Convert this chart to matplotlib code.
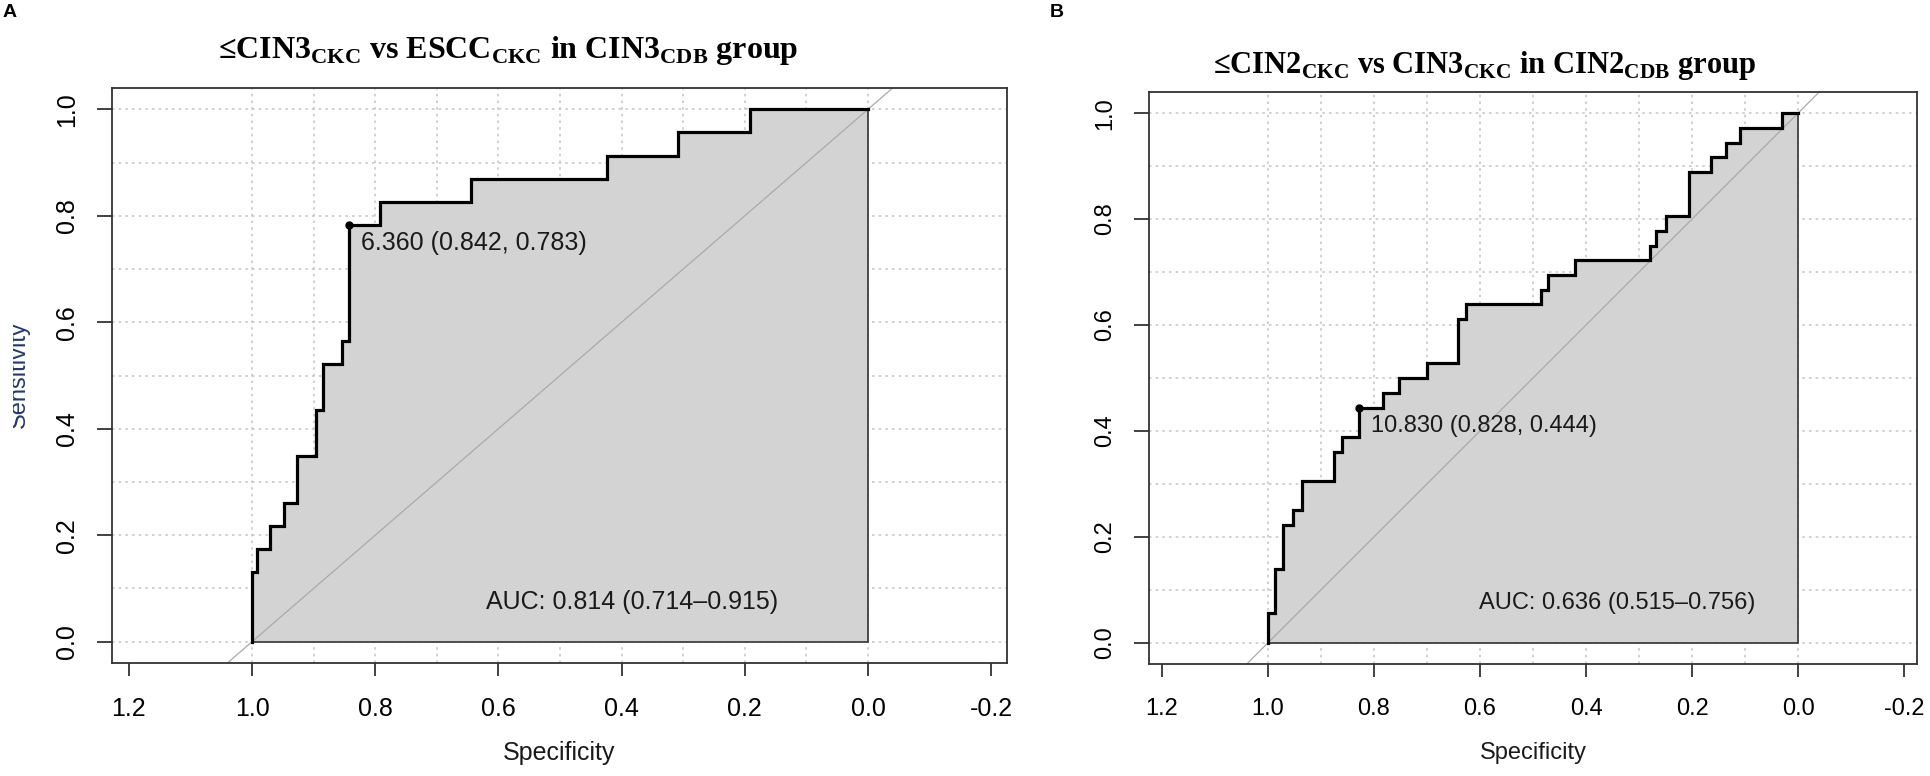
"""
ROC curves of CDB vs CKC grading, two panels
"""

import matplotlib
matplotlib.use("Agg")
import matplotlib.pyplot as plt
from matplotlib.transforms import Bbox

plt.rcParams["font.family"] = ["Liberation Sans", "DejaVu Sans"]
plt.rcParams["mathtext.fontset"] = "custom"
plt.rcParams["mathtext.rm"] = "Liberation Serif:bold"
plt.rcParams["mathtext.bf"] = "Liberation Serif:bold"

# panel A: <=CIN3 vs ESCC
spec_a = [1.000, 1.000, 0.992, 0.992, 0.971, 0.971, 0.948, 0.948, 0.927, 0.927,
          0.896, 0.896, 0.885, 0.885, 0.854, 0.854, 0.842, 0.842, 0.792, 0.792,
          0.644, 0.644, 0.424, 0.424, 0.308, 0.308, 0.192, 0.192, 0.000]
sens_a = [0.000, 0.130, 0.130, 0.174, 0.174, 0.217, 0.217, 0.261, 0.261, 0.348,
          0.348, 0.435, 0.435, 0.522, 0.522, 0.565, 0.565, 0.783, 0.783, 0.826,
          0.826, 0.870, 0.870, 0.913, 0.913, 0.957, 0.957, 1.000, 1.000]
best_a = ("6.360", 0.842, 0.783)
auc_a = "AUC: 0.814 (0.714\u20130.915)"
title_a = "\u2264CIN3$_{\\mathbf{CKC}}$ vs ESCC$_{\\mathbf{CKC}}$ in CIN3$_{\\mathbf{CDB}}$ group"

# panel B: <=CIN2 vs CIN3
spec_b = [1.000, 1.000, 0.987, 0.987, 0.971, 0.971, 0.953, 0.953, 0.936, 0.936,
          0.875, 0.875, 0.860, 0.860, 0.828, 0.828, 0.783, 0.783, 0.752, 0.752,
          0.700, 0.700, 0.641, 0.641, 0.627, 0.627, 0.485, 0.485, 0.472, 0.472,
          0.421, 0.421, 0.280, 0.280, 0.268, 0.268, 0.250, 0.250, 0.205, 0.205,
          0.165, 0.165, 0.135, 0.135, 0.110, 0.110, 0.030, 0.030, 0.000]
sens_b = [0.000, 0.056, 0.056, 0.139, 0.139, 0.222, 0.222, 0.250, 0.250, 0.306,
          0.306, 0.361, 0.361, 0.389, 0.389, 0.444, 0.444, 0.472, 0.472, 0.500,
          0.500, 0.528, 0.528, 0.611, 0.611, 0.639, 0.639, 0.667, 0.667, 0.694,
          0.694, 0.722, 0.722, 0.750, 0.750, 0.778, 0.778, 0.806, 0.806, 0.889,
          0.889, 0.917, 0.917, 0.944, 0.944, 0.972, 0.972, 1.000, 1.000]
best_b = ("10.830", 0.828, 0.444)
auc_b = "AUC: 0.636 (0.515\u20130.756)"
title_b = "\u2264CIN2$_{\\mathbf{CKC}}$ vs CIN3$_{\\mathbf{CKC}}$ in CIN2$_{\\mathbf{CDB}}$ group"

x_ticks = [1.2, 1.0, 0.8, 0.6, 0.4, 0.2, 0.0, -0.2]
x_labels = ["1.2", "1.0", "0.8", "0.6", "0.4", "0.2", "0.0", "-0.2"]
y_ticks = [0.0, 0.2, 0.4, 0.6, 0.8, 1.0]
y_labels = ["0.0", "0.2", "0.4", "0.6", "0.8", "1.0"]
grid_vals = [i / 10 for i in range(11)]

W, H = 1930, 776


def px_rect(left, top, right, bottom):
    return [left / W, 1 - bottom / H, (right - left) / W, (bottom - top) / H]


def draw_roc(ax, spec, sens, best, auc_text, auc_x, xlim, fs):
    for g in grid_vals:
        ax.axhline(g, color="#c8c8c8", lw=1.2, ls=(0, (1.5, 2.5)), zorder=0.5)
        ax.axvline(g, color="#c8c8c8", lw=1.2, ls=(0, (1.5, 2.5)), zorder=0.5)

    ax.fill(spec + [0.0], sens + [0.0], facecolor="#d3d3d3",
            edgecolor="#333333", lw=1.2, zorder=1)
    ax.axline((0, 1), (1, 0), color="#aaaaaa", lw=0.9, zorder=2)
    ax.plot(spec, sens, color="black", lw=2.3, zorder=3,
            solid_joinstyle="miter")

    thr, bs, bse = best
    ax.plot([bs], [bse], "o", color="black", ms=5, zorder=4)
    ax.annotate(f"{thr} ({bs:.3f}, {bse:.3f})", (bs, bse),
                xytext=(8.5, -13), textcoords="offset points",
                ha="left", va="center", fontsize=fs, color="#1a1a1a")
    ax.text(auc_x, 0.075, auc_text, ha="left", va="center",
            fontsize=fs, color="#1a1a1a", zorder=5)

    ax.set_xlim(*xlim)
    ax.set_ylim(-0.04, 1.04)
    ax.set_xticks(x_ticks)
    ax.set_xticklabels(x_labels)
    ax.set_yticks(y_ticks)
    ax.set_yticklabels(y_labels, rotation=90, va="center")
    ax.tick_params(axis="x", direction="out", length=9.5, width=1.3,
                   labelsize=fs, pad=15, color="#333333")
    ax.tick_params(axis="y", direction="out", length=10.5, width=1.3,
                   labelsize=fs, pad=13, color="#333333")
    for s in ax.spines.values():
        s.set_linewidth(1.3)
        s.set_color("#333333")


fig = plt.figure(figsize=(W / 100, H / 100), dpi=100)

# panel A is stretched sideways in the source figure, so its text runs a bit larger
ax_a = fig.add_axes(px_rect(112, 88, 1007, 663))
draw_roc(ax_a, spec_a, sens_a, best_a, auc_a, 0.62, (1.2273, -0.2256), 18)

ax_b = fig.add_axes(px_rect(1149, 92, 1917, 664))
draw_roc(ax_b, spec_b, sens_b, best_b, auc_b, 0.602, (1.2245, -0.2245), 17)

# titles
fig.text(218 / W, 1 - 58 / H, title_a, family="Liberation Serif",
         weight="bold", fontsize=23, ha="left", va="baseline")
fig.text(1213 / W, 1 - 73 / H, title_b, family="Liberation Serif",
         weight="bold", fontsize=22, ha="left", va="baseline")

# x labels
fig.text(559.5 / W, 1 - 753 / H, "Specificity", fontsize=18,
         ha="center", va="center", color="#1a1a1a")
fig.text(1533 / W, 1 - 753 / H, "Specificity", fontsize=17,
         ha="center", va="center", color="#1a1a1a")

# y label of panel A is cut off in the original
ylab = fig.text(30 / W, 1 - 375 / H, "Sensitivity", fontsize=17,
                rotation=90, ha="right", va="center", color="#23396b")
ylab.set_clip_box(Bbox([[13, 0], [200, H]]))

# panel letters
fig.text(3 / W, 1 - 17 / H, "A", fontsize=14, weight="bold",
         ha="left", va="baseline")
fig.text(1050 / W, 1 - 17 / H, "B", fontsize=14, weight="bold",
         ha="left", va="baseline")

fig.savefig("out.png", dpi=100)
